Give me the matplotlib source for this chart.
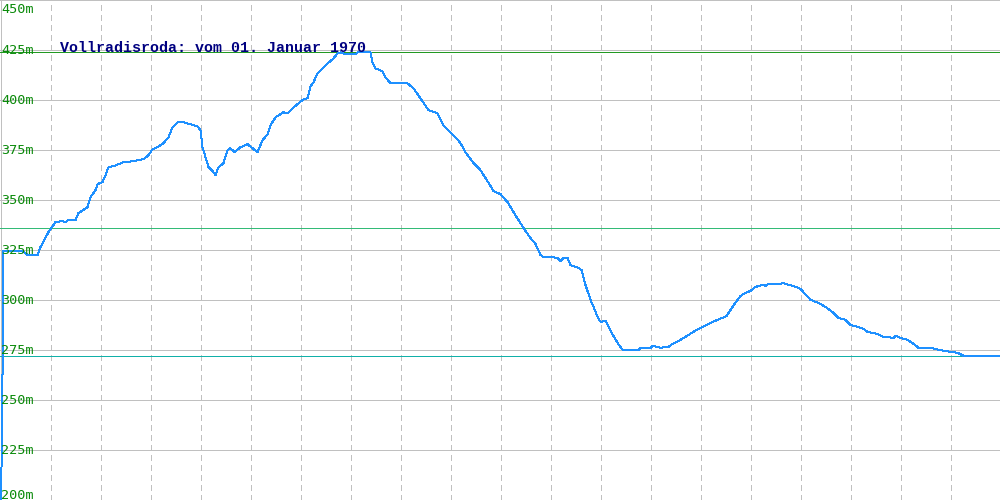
import matplotlib
matplotlib.use("Agg")
import matplotlib.pyplot as plt
import matplotlib.transforms as mtransforms

# ---- data ----
distance = [0, 2, 3, 22, 27, 37, 40, 48, 55, 62, 65, 68, 75, 78, 87, 90, 95, 97, 102, 105,
            108, 113, 123, 133, 143, 148, 152, 157, 163, 168, 172, 177, 183, 190, 197, 200,
            202, 208, 212, 215, 218, 223, 227, 230, 234, 240, 247, 252, 257, 262, 267, 270,
            275, 283, 287, 292, 298, 303, 307, 310, 313, 317, 322, 325, 333, 337, 340, 345,
            355, 357, 370, 372, 375, 382, 385, 390, 407, 413, 422, 428, 437, 443, 450, 455,
            460, 465, 473, 480, 487, 493, 500, 507, 513, 518, 523, 530, 535, 540, 543, 550,
            557, 560, 563, 567, 570, 578, 581, 585, 590, 593, 597, 600, 605, 610, 617, 622,
            638, 640, 650, 652, 660, 668, 672, 680, 688, 693, 700, 710, 717, 722, 726, 732,
            740, 745, 750, 755, 762, 765, 768, 780, 782, 785, 793, 800, 810, 818, 825, 833,
            838, 845, 850, 857, 863, 867, 877, 883, 893, 895, 900, 907, 913, 918, 930, 943,
            957, 963, 1000]
elevation = [170, 262.5, 324.5, 324.5, 322.5, 322.5, 326.5, 334, 339, 339.5, 339, 340, 340,
             343.5, 346.5, 351.5, 355, 358, 359, 362.5, 366.5, 367, 369, 369.5, 370.5, 372.5,
             375.5, 376.5, 378.5, 381.5, 386.5, 389, 389, 388, 387, 385, 376.5, 366.5, 364.5,
             362.5, 366.5, 368.5, 375, 376, 374, 376.5, 378, 376, 374, 380, 383, 387.5, 391.5,
             394, 393.5, 396, 398.5, 400.5, 401, 407, 409, 413.5, 416, 417.5, 421, 423.5, 424,
             423, 423, 424, 424, 419, 416, 414.5, 411.5, 408.5, 408.5, 406, 399.5, 395, 393.5,
             387.5, 384, 381.5, 378.5, 374, 368.5, 365, 359.5, 354.5, 353, 349, 344, 340, 336,
             331, 328, 322.5, 321.5, 321.5, 321, 319.5, 321, 321, 317.5, 316, 315, 307.5, 300,
             296.5, 291.5, 289, 289.5, 284.5, 278.5, 275, 275, 276, 276, 277, 276, 276.5, 278,
             280, 282.5, 284, 286, 288.5, 290, 291, 292, 296.5, 302, 303.5, 304.5, 306.5, 307.5,
             307, 308, 308, 308.5, 308, 307, 305.5, 300, 298.5, 296.5, 293.5, 291, 290, 287.5,
             286.5, 285.5, 284, 283, 281.5, 281, 282, 281, 280, 278, 276, 276, 274.5, 273.5,
             272, 272]

elev_max = 424.0
elev_avg = 336.2
elev_min = 272.0

y_ticks = [200, 225, 250, 275, 300, 325, 350, 375, 400, 425, 450]
y_tick_labels = ["200m", "225m", "250m", "275m", "300m", "325m", "350m", "375m", "400m", "425m", "450m"]
x_grid = list(range(50, 1000, 50))

title = "Vollradisroda: vom 01. Januar 1970"

# ---- figure ----
plt.rcParams['lines.scale_dashes'] = False
fig = plt.figure(figsize=(10, 5), dpi=100)
ax = fig.add_axes([0, 0, 1, 1])
ax.set_xlim(-0.5, 999.5)
ax.set_ylim(199.75, 450.25)
for s in ax.spines.values():
    s.set_visible(False)
ax.set_xticks([])
ax.set_yticks([])

grid_c = "#c0c0c0"
px = 0.72  # 1 pixel in points
for v in y_ticks:
    ax.axhline(v, color=grid_c, lw=px, antialiased=False, zorder=1)
for v in x_grid:
    ax.axvline(v, color=grid_c, lw=px, linestyle=(0, (4.3, 2.9)), antialiased=False, zorder=1)
ax.axvline(0, color=grid_c, lw=px, antialiased=False, zorder=1)
ax.axvline(999, color=grid_c, lw=px, antialiased=False, zorder=1)

ax.axhline(elev_max, color="#229922", lw=px, antialiased=False, zorder=2)
ax.axhline(elev_avg, color="#33bb77", lw=px, antialiased=False, zorder=2)
ax.axhline(elev_min, color="#11b0a8", lw=px, antialiased=False, zorder=2)

ax.plot(distance, elevation, color="#1e90ff", lw=px, antialiased=False, zorder=3)

# y labels
for v, lab in zip(y_ticks, y_tick_labels):
    if v == 450:
        dy = -13
    elif v == 200:
        dy = 1
    else:
        dy = -4
    tr = mtransforms.offset_copy(ax.transData, fig=fig, x=0, y=dy * 0.72, units='points')
    ax.text(0.5, v, lab, transform=tr, ha='left', va='baseline', color="#0a8a0a",
            fontsize=9.7, family="DejaVu Sans Mono", zorder=4)

ax.text(60, 424, title, ha='left', va='baseline', color="#000080", fontsize=10.8,
        family="Liberation Mono", fontweight='bold', zorder=5)

fig.savefig("out.png", dpi=100)
